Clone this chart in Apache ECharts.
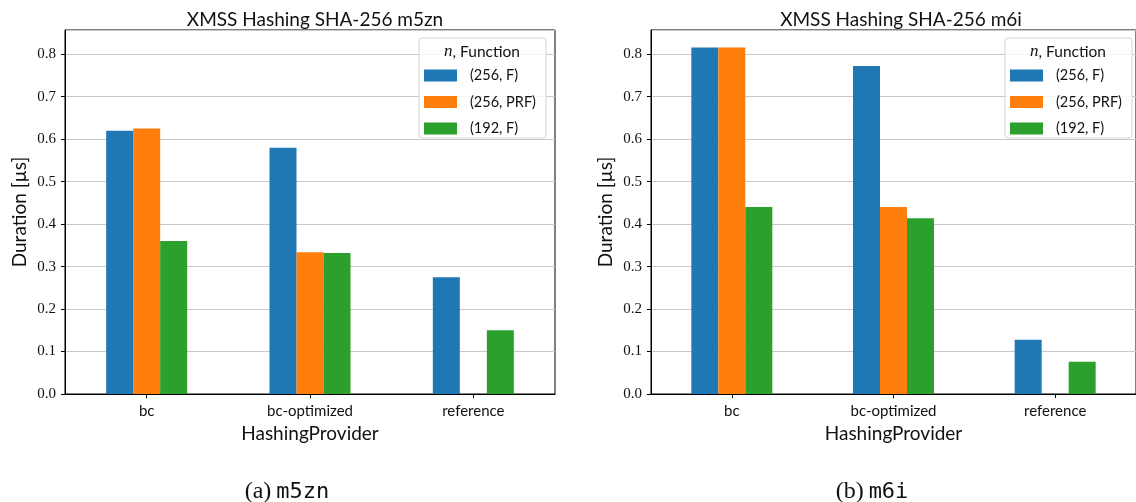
<!DOCTYPE html>
<html>
<head>
<meta charset="utf-8">
<script src="https://cdn.jsdelivr.net/npm/echarts@6/dist/echarts.min.js"></script>
<style>html,body{margin:0;padding:0;background:#fff;}#c{width:1136px;height:502px;}</style>
</head>
<body>
<div id="c"></div>
<script>
const categories = ['bc', 'bc-optimized', 'reference'];
const seriesNames = ['(256, F)', '(256, PRF)', '(192, F)'];
const m5znF256 = [0.620, 0.580, 0.275];
const m5znPRF256 = [0.625, 0.334, null];
const m5znF192 = [0.360, 0.332, 0.150];
const m6iF256 = [0.816, 0.772, 0.128];
const m6iPRF256 = [0.816, 0.440, null];
const m6iF192 = [0.440, 0.414, 0.076];
const plotTitles = ['XMSS Hashing SHA-256 m5zn', 'XMSS Hashing SHA-256 m6i'];
const captionLabels = ['(a)', '(b)'];
const captionCodes = ['m5zn', 'm6i'];
const xAxisName = 'HashingProvider';
const yAxisName = 'Duration [µs]';
const legendTitle = ['n', ', Function'];

const colors = ['#1f77b4', '#ff7f0e', '#2ca02c'];
const SANS = 'Lato, "Open Sans", sans-serif';
const SERIF = '"Liberation Serif", "DejaVu Serif", serif';
const MONO = '"DejaVu Sans Mono", "Liberation Mono", monospace';

const grids = [
  {left: 65, top: 30, width: 490, height: 364},
  {left: 651, top: 30, width: 490, height: 364}
];
const seriesData = [[m5znF256, m5znPRF256, m5znF192], [m6iF256, m6iPRF256, m6iF192]];
const captionCenters = [282, 867];

const option = {
  animation: false,
  color: colors,
  title: [],
  grid: grids.map(g => Object.assign({show: true, borderColor: '#000', borderWidth: 1, backgroundColor: 'transparent'}, g)),
  xAxis: [],
  yAxis: [],
  legend: [],
  series: [],
  graphic: []
};

grids.forEach((g, gi) => {
  const cx = g.left + g.width / 2;
  option.title.push({
    text: plotTitles[gi], left: cx, top: 5, textAlign: 'center',
    textStyle: {fontFamily: SANS, fontSize: 19, fontWeight: 'normal', color: '#111'}
  });
  option.title.push({
    text: '{a|' + captionLabels[gi] + '} {m|' + captionCodes[gi] + '}',
    left: captionCenters[gi], top: 475, textAlign: 'center',
    textStyle: {fontWeight: 'normal', rich: {
      a: {fontFamily: SERIF, fontSize: 24, fontWeight: 'normal', color: '#111'},
      m: {fontFamily: MONO, fontSize: 22, fontWeight: 'normal', color: '#111'}
    }}
  });
  option.xAxis.push({
    type: 'category', gridIndex: gi, data: categories,
    name: xAxisName, nameLocation: 'middle', nameGap: 29,
    nameTextStyle: {fontFamily: SANS, fontSize: 19, color: '#111'},
    axisLine: {show: true, lineStyle: {color: '#000', width: 1}},
    axisTick: {show: true, alignWithLabel: true, length: 4, lineStyle: {color: '#000'}},
    axisLabel: {fontFamily: SANS, fontSize: 15, color: '#111', margin: 10},
    splitLine: {show: false}
  });
  option.yAxis.push({
    type: 'value', gridIndex: gi, min: 0, max: 0.857, interval: 0.1,
    name: yAxisName, nameLocation: 'middle', nameGap: 36,
    nameTextStyle: {fontFamily: SANS, fontSize: 19, color: '#111'},
    axisLine: {show: true, lineStyle: {color: '#000', width: 1}},
    axisTick: {show: true, length: 4, lineStyle: {color: '#000'}},
    axisLabel: {fontFamily: SERIF, fontSize: 15, color: '#111', margin: 9, showMaxLabel: false,
      formatter: v => v.toFixed(1)},
    splitLine: {show: true, lineStyle: {color: '#c8c8c8', width: 1}}
  });
  seriesNames.forEach((name, si) => {
    option.series.push({
      type: 'bar', name: name, xAxisIndex: gi, yAxisIndex: gi,
      data: seriesData[gi][si], barWidth: 27, barGap: '0%',
      itemStyle: {color: colors[si]}
    });
  });
  const boxRight = g.left + g.width - 9;
  const boxLeft = boxRight - 127;
  option.graphic.push({
    type: 'rect', z: 50,
    shape: {x: boxLeft, y: 38, width: 127, height: 100, r: 3},
    style: {fill: 'rgba(255,255,255,0.8)', stroke: '#d4d4d4', lineWidth: 1}
  });
  option.graphic.push({
    type: 'text', z: 51, x: boxLeft + 63, y: 52,
    style: {
      text: '{i|' + legendTitle[0] + '}{r|' + legendTitle[1] + '}',
      align: 'center', verticalAlign: 'middle',
      rich: {
        i: {fontFamily: SERIF, fontStyle: 'italic', fontSize: 17, fill: '#111'},
        r: {fontFamily: SANS, fontSize: 15.5, fill: '#111'}
      }
    }
  });
  option.legend.push({
    orient: 'vertical', left: boxLeft + 5, top: 68, z: 52,
    itemWidth: 33, itemHeight: 12, itemGap: 11.5, padding: 0,
    icon: 'rect', data: seriesNames,
    textStyle: {fontFamily: SANS, fontSize: 14.5, color: '#111', lineHeight: 12, padding: [0, 0, 0, 8]}
  });
});

const chart = echarts.init(document.getElementById('c'), null, {renderer: 'canvas'});
chart.setOption(option);
</script>
</body>
</html>
